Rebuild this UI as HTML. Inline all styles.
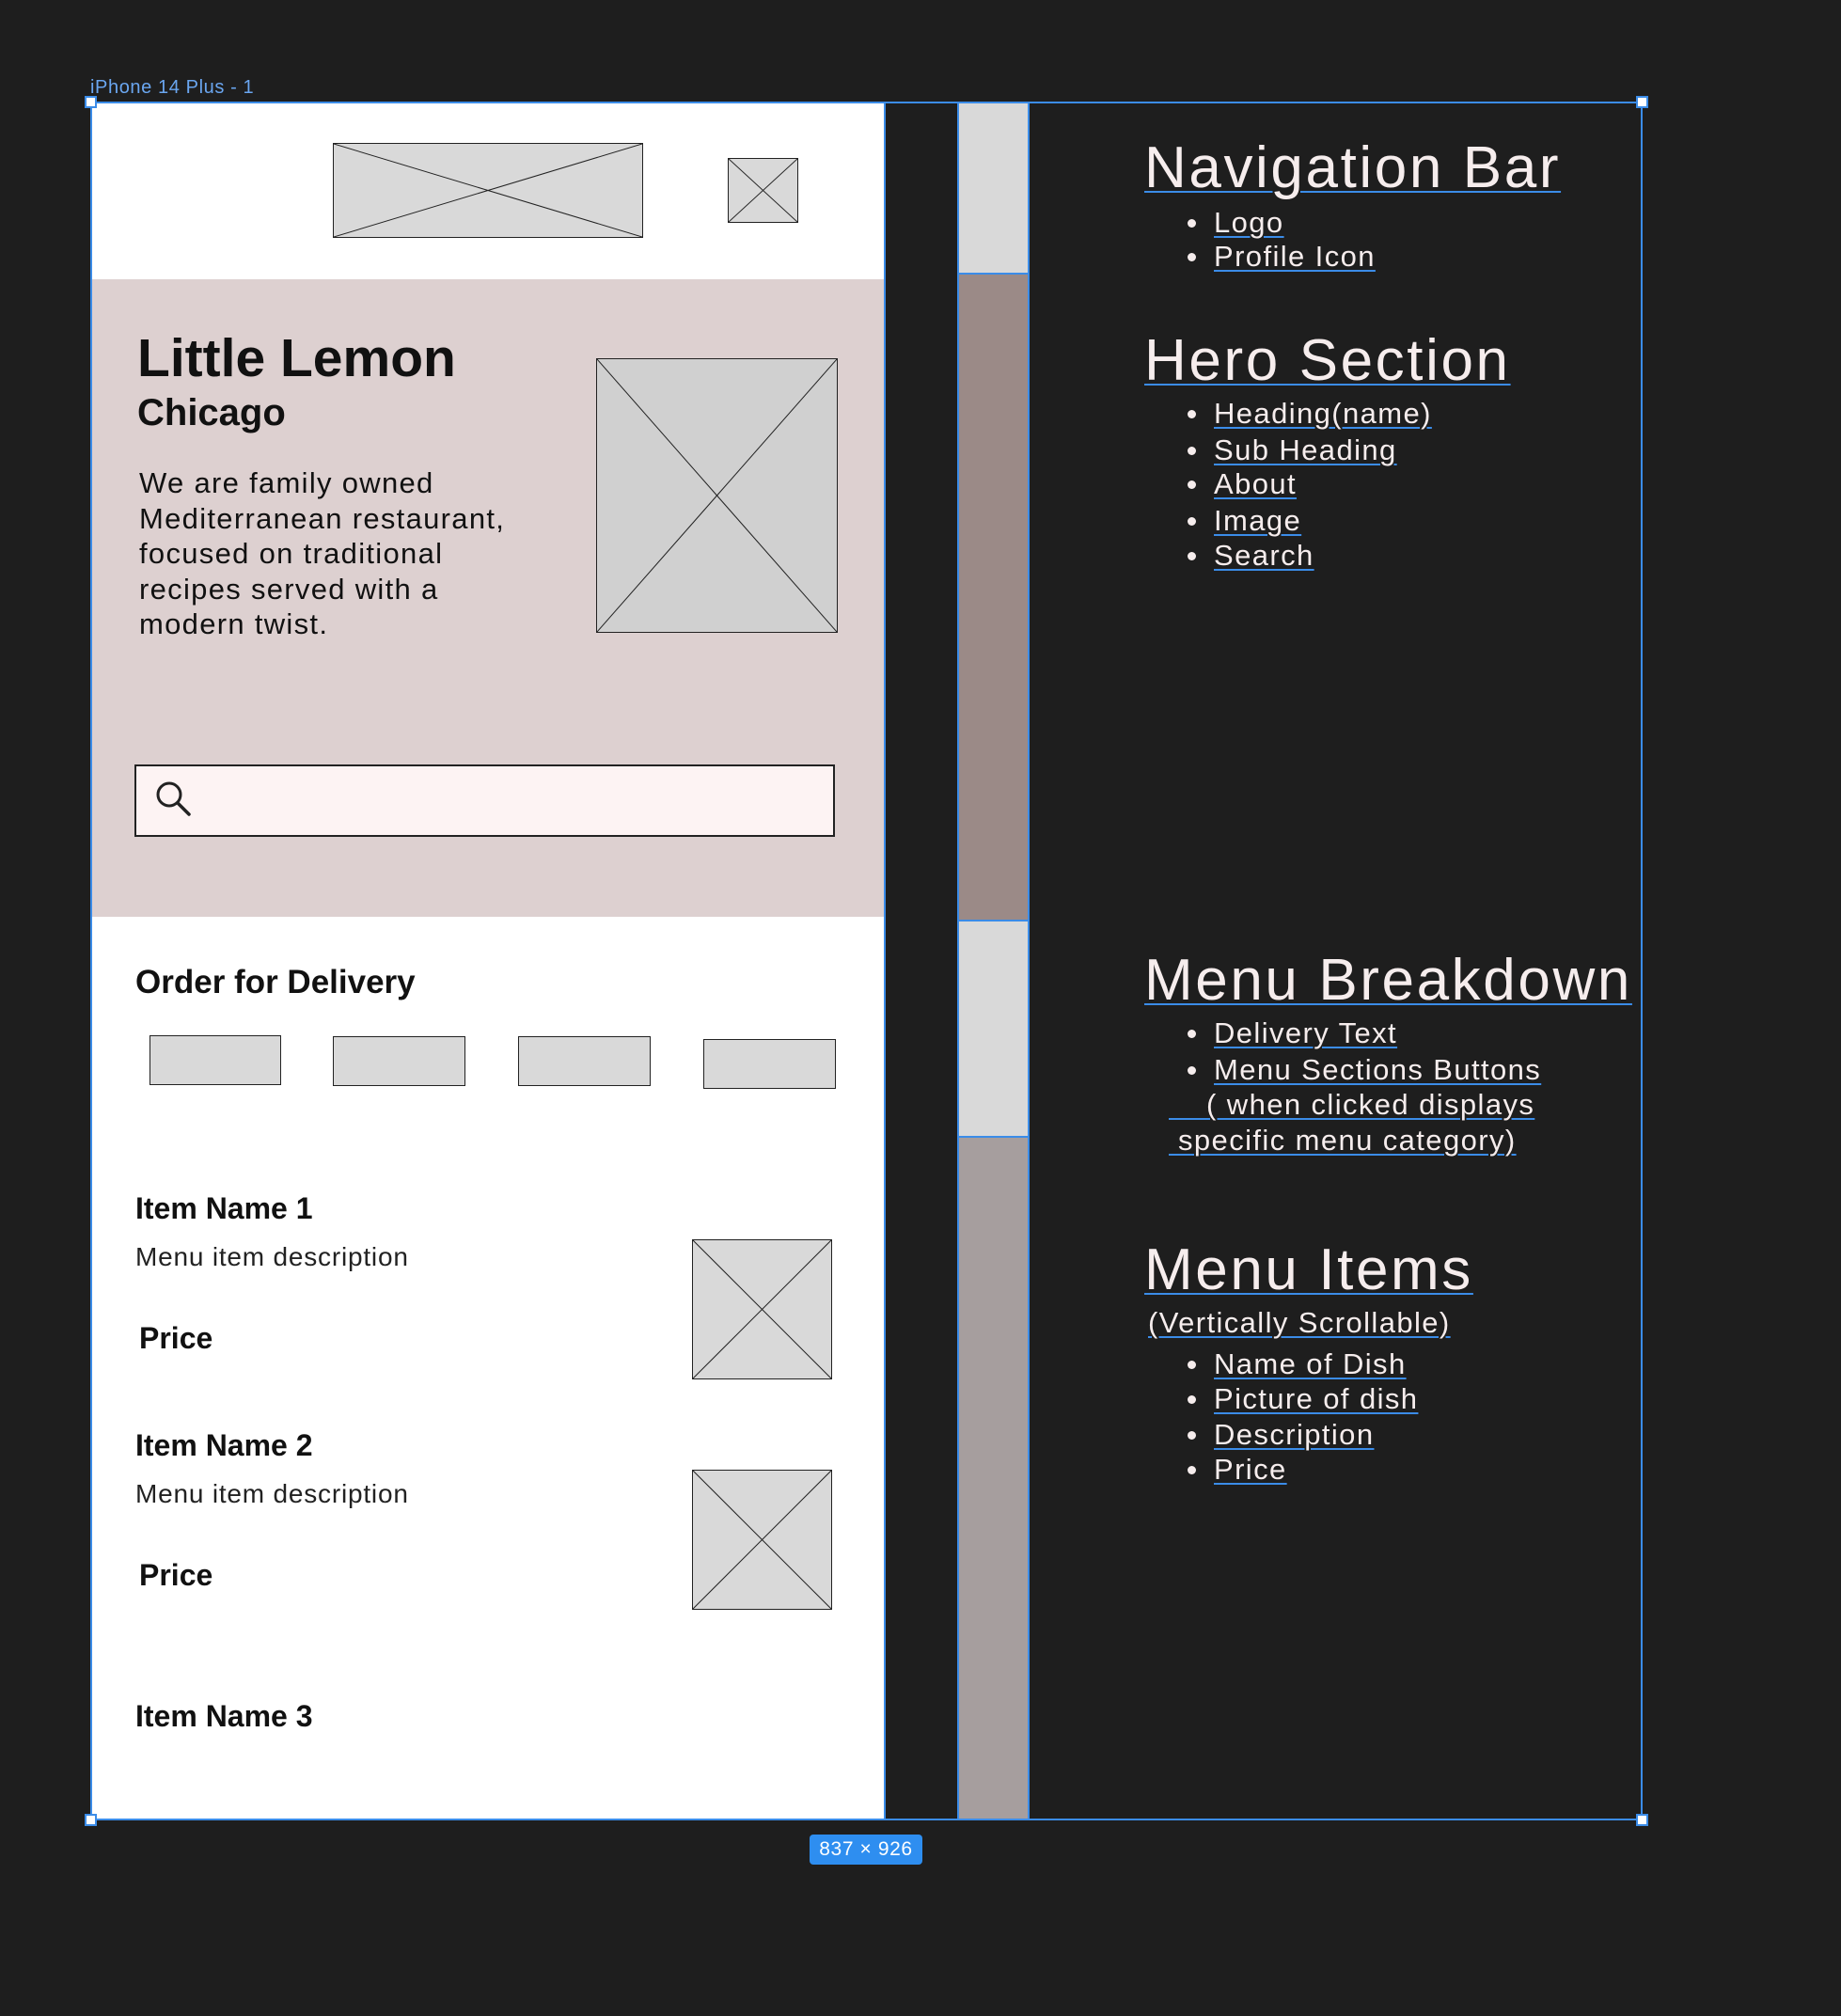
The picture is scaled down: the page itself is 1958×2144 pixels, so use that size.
<!DOCTYPE html>
<html><head><meta charset="utf-8"><style>
*{margin:0;padding:0;box-sizing:border-box}
body{width:1958px;height:2144px;background:#1e1e1e;position:relative;overflow:hidden;font-family:"Liberation Sans",sans-serif}
.a{position:absolute}
.t{position:absolute;white-space:nowrap;line-height:1}
.ph{position:absolute;background:#d9d9d9;border:1.5px solid #222}
.ph svg{position:absolute;left:0;top:0;width:100%;height:100%}
.r{color:#f6eded;text-decoration:underline;text-decoration-color:#3b8ce8;text-decoration-thickness:2px;text-underline-offset:4px}
.b{font-size:31px;letter-spacing:1.4px}
.h{font-size:62px;letter-spacing:2.6px}
.dot{position:absolute;width:9px;height:9px;border-radius:50%;background:#f6eded}
.hd{position:absolute;width:13px;height:13px;background:#fff;border:2px solid #3b8ce8}
.bd{font-weight:bold}
</style></head><body>
<div class="t" style="left:96px;top:83px;font-size:20px;color:#6aa6f0;letter-spacing:0.6px">iPhone 14 Plus - 1</div>
<div class="a" style="left:96px;top:109px;width:845px;height:1826px;background:#fff"></div>
<div class="a" style="left:96px;top:297px;width:845px;height:678px;background:#ddd0d0"></div>
<div class="ph" style="left:354px;top:152px;width:330px;height:101px"><svg viewBox="0 0 100 100" preserveAspectRatio="none"><line x1="0" y1="0" x2="100" y2="100" stroke="#222" stroke-width="1" vector-effect="non-scaling-stroke"/><line x1="100" y1="0" x2="0" y2="100" stroke="#222" vector-effect="non-scaling-stroke"/></svg></div>
<div class="ph" style="left:774px;top:168px;width:75px;height:69px"><svg viewBox="0 0 100 100" preserveAspectRatio="none"><line x1="0" y1="0" x2="100" y2="100" stroke="#222" vector-effect="non-scaling-stroke"/><line x1="100" y1="0" x2="0" y2="100" stroke="#222" vector-effect="non-scaling-stroke"/></svg></div>
<div class="t bd" style="left:146px;top:353px;font-size:57px;color:#111">Little Lemon</div>
<div class="t bd" style="left:146px;top:419px;font-size:40px;color:#111">Chicago</div>
<div class="a" style="left:148px;top:495px;font-size:31px;line-height:37.6px;color:#111;letter-spacing:1.3px">We are family owned<br>Mediterranean restaurant,<br>focused on traditional<br>recipes served with a<br>modern twist.</div>
<div class="ph" style="left:634px;top:381px;width:257px;height:292px;background:#d0d0d0"><svg viewBox="0 0 100 100" preserveAspectRatio="none"><line x1="0" y1="0" x2="100" y2="100" stroke="#222" vector-effect="non-scaling-stroke"/><line x1="100" y1="0" x2="0" y2="100" stroke="#222" vector-effect="non-scaling-stroke"/></svg></div>
<div class="a" style="left:143px;top:813px;width:745px;height:77px;background:#fdf3f3;border:2px solid #222"></div>
<svg class="a" style="left:163px;top:828px" width="44" height="44" viewBox="0 0 44 44"><circle cx="17" cy="17" r="12" fill="none" stroke="#222" stroke-width="3"/><line x1="26" y1="26" x2="38" y2="38" stroke="#222" stroke-width="3.5" stroke-linecap="round"/></svg>
<div class="t bd" style="left:144px;top:1027px;font-size:35px;color:#111">Order for Delivery</div>
<div class="ph" style="left:159px;top:1101px;width:140px;height:53px"></div>
<div class="ph" style="left:354px;top:1102px;width:141px;height:53px"></div>
<div class="ph" style="left:551px;top:1102px;width:141px;height:53px"></div>
<div class="ph" style="left:748px;top:1105px;width:141px;height:53px"></div>
<div class="t bd" style="left:144px;top:1269px;font-size:32px;color:#111">Item Name 1</div>
<div class="t" style="left:144px;top:1323px;font-size:28px;color:#222;letter-spacing:0.8px">Menu item description</div>
<div class="t bd" style="left:148px;top:1407px;font-size:32px;color:#111">Price</div>
<div class="ph" style="left:736px;top:1318px;width:149px;height:149px"><svg viewBox="0 0 100 100" preserveAspectRatio="none"><line x1="0" y1="0" x2="100" y2="100" stroke="#222" vector-effect="non-scaling-stroke"/><line x1="100" y1="0" x2="0" y2="100" stroke="#222" vector-effect="non-scaling-stroke"/></svg></div>
<div class="t bd" style="left:144px;top:1521px;font-size:32px;color:#111">Item Name 2</div>
<div class="t" style="left:144px;top:1575px;font-size:28px;color:#222;letter-spacing:0.8px">Menu item description</div>
<div class="t bd" style="left:148px;top:1659px;font-size:32px;color:#111">Price</div>
<div class="ph" style="left:736px;top:1563px;width:149px;height:149px"><svg viewBox="0 0 100 100" preserveAspectRatio="none"><line x1="0" y1="0" x2="100" y2="100" stroke="#222" vector-effect="non-scaling-stroke"/><line x1="100" y1="0" x2="0" y2="100" stroke="#222" vector-effect="non-scaling-stroke"/></svg></div>
<div class="t bd" style="left:144px;top:1809px;font-size:32px;color:#111">Item Name 3</div>
<div class="a" style="left:940px;top:109px;width:2px;height:1826px;background:#3b8ce8"></div>
<div class="a" style="left:1019px;top:109px;width:75px;height:182px;background:#d9d9d9"></div>
<div class="a" style="left:1019px;top:291px;width:75px;height:688px;background:#9b8a87"></div>
<div class="a" style="left:1019px;top:979px;width:75px;height:230px;background:#d9d9d9"></div>
<div class="a" style="left:1019px;top:1209px;width:75px;height:726px;background:#a69e9e"></div>
<div class="a" style="left:1018px;top:109px;width:77px;height:1826px;border-left:2px solid #3b8ce8;border-right:2px solid #3b8ce8"></div>
<div class="a" style="left:1019px;top:290px;width:75px;height:2px;background:#3b8ce8"></div>
<div class="a" style="left:1019px;top:978px;width:75px;height:2px;background:#3b8ce8"></div>
<div class="a" style="left:1019px;top:1208px;width:75px;height:2px;background:#3b8ce8"></div>
<div class="a" style="left:96px;top:108px;width:1651px;height:1828px;border:2px solid #3b8ce8"></div>
<div class="hd" style="left:90px;top:102px"></div><div class="hd" style="left:1740px;top:102px"></div>
<div class="hd" style="left:90px;top:1929px"></div><div class="hd" style="left:1740px;top:1929px"></div>
<div class="a" style="left:861px;top:1951px;width:120px;height:32px;background:#2e8ef0;border-radius:4px;color:#fff;font-size:21px;text-align:center;line-height:32px;letter-spacing:0.6px">837 × 926</div>

<div class="t r h" style="left:1217px;top:148px">Navigation Bar</div>
<div class="dot" style="left:1263px;top:233px"></div><div class="t r b" style="left:1291px;top:221px">Logo</div>
<div class="dot" style="left:1263px;top:269px"></div><div class="t r b" style="left:1291px;top:257px">Profile Icon</div>
<div class="t r h" style="left:1217px;top:353px">Hero Section</div>
<div class="dot" style="left:1263px;top:436px"></div><div class="t r b" style="left:1291px;top:424px">Heading(name)</div>
<div class="dot" style="left:1263px;top:475px"></div><div class="t r b" style="left:1291px;top:463px">Sub Heading</div>
<div class="dot" style="left:1263px;top:511px"></div><div class="t r b" style="left:1291px;top:499px">About</div>
<div class="dot" style="left:1263px;top:550px"></div><div class="t r b" style="left:1291px;top:538px">Image</div>
<div class="dot" style="left:1263px;top:587px"></div><div class="t r b" style="left:1291px;top:575px">Search</div>
<div class="t r h" style="left:1217px;top:1012px">Menu Breakdown</div>
<div class="dot" style="left:1263px;top:1095px"></div><div class="t r b" style="left:1291px;top:1083px">Delivery Text</div>
<div class="dot" style="left:1263px;top:1134px"></div><div class="t r b" style="left:1291px;top:1122px">Menu Sections Buttons</div>
<div class="t r b" style="left:1243px;top:1159px">&nbsp;&nbsp;&nbsp;&nbsp;( when clicked displays</div>
<div class="t r b" style="left:1243px;top:1197px">&nbsp;specific menu category)</div>
<div class="t r h" style="left:1217px;top:1320px">Menu Items</div>
<div class="t r b" style="left:1221px;top:1391px">(Vertically Scrollable)</div>
<div class="dot" style="left:1263px;top:1447px"></div><div class="t r b" style="left:1291px;top:1435px">Name of Dish</div>
<div class="dot" style="left:1263px;top:1484px"></div><div class="t r b" style="left:1291px;top:1472px">Picture of dish</div>
<div class="dot" style="left:1263px;top:1522px"></div><div class="t r b" style="left:1291px;top:1510px">Description</div>
<div class="dot" style="left:1263px;top:1559px"></div><div class="t r b" style="left:1291px;top:1547px">Price</div>
</body></html>
